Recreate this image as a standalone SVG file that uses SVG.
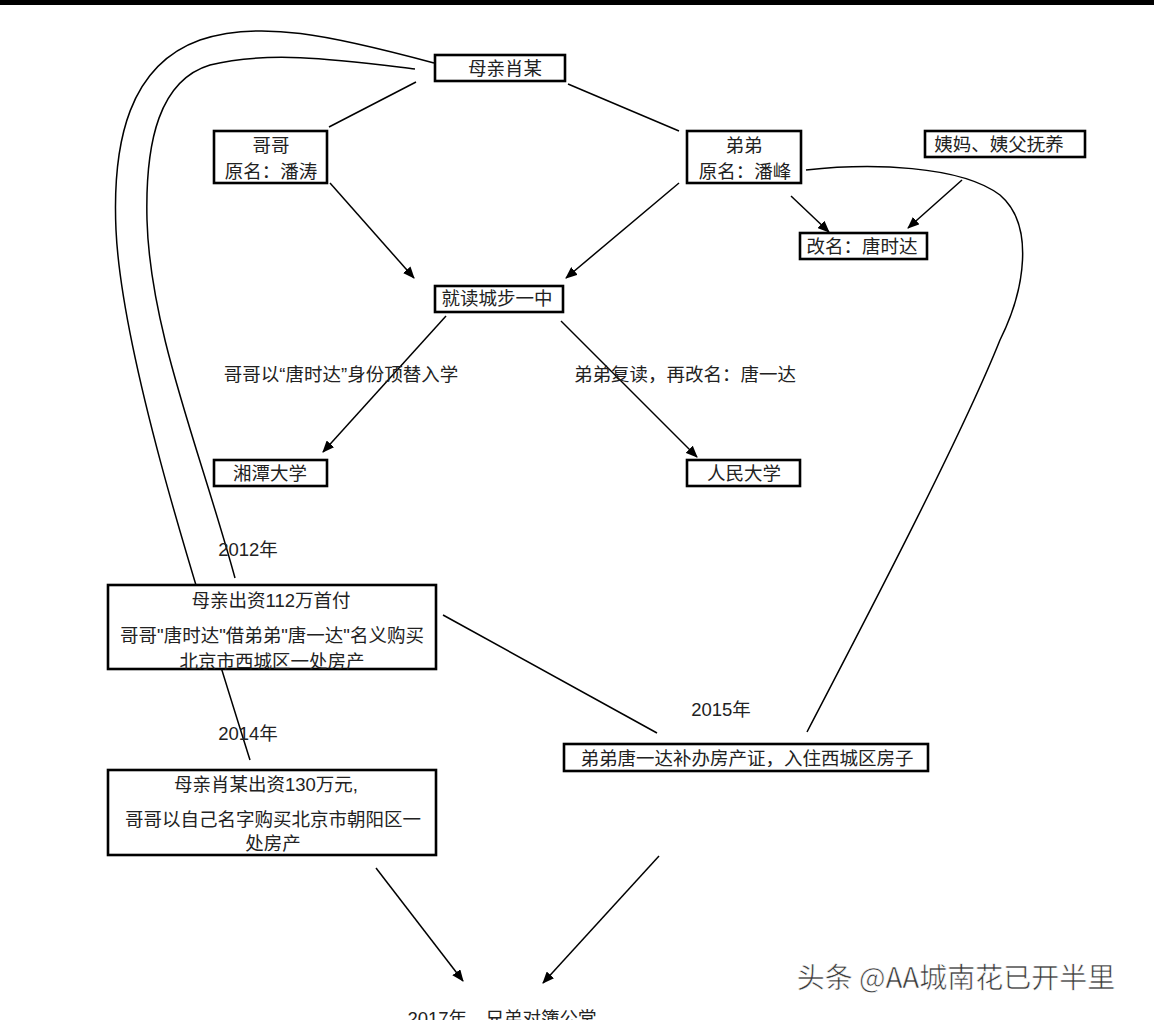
<svg xmlns="http://www.w3.org/2000/svg" width="1154" height="1020" viewBox="0 0 1154 1020">
<defs>
<style>
.box{fill:#fff;stroke:#000;stroke-width:2.6}
.t{font-family:"Liberation Sans","Noto Sans CJK SC",sans-serif;font-size:18.5px;fill:#222;text-anchor:middle}
.ln{fill:none;stroke:#000;stroke-width:1.5}
.wm{font-family:"Noto Sans CJK SC",sans-serif;font-size:28px;fill:#3a3a3a;stroke:#fff;stroke-width:0.6;text-anchor:middle}
</style>
<marker id="ah" viewBox="0 0 12 10" refX="11" refY="5" markerWidth="12" markerHeight="10" markerUnits="userSpaceOnUse" orient="auto">
<path d="M0,0 L12,5 L0,10 Z" fill="#000"/>
</marker>
</defs>
<rect width="1154" height="1020" fill="#fff"/>
<rect x="0" y="0" width="1154" height="5" fill="#000"/>

<g id="connectors">
<line class="ln" x1="416" y1="82" x2="329" y2="127"/>
<line class="ln" x1="568" y1="84" x2="679" y2="131"/>
<path class="ln" d="M434,63 C330,35 260,20 200,40 C130,65 112,140 116,230 C122,360 200,600 250,760"/>
<path class="ln" d="M415,69 C340,60 270,50 210,65 C160,80 145,140 147,220 C150,330 200,450 235,578"/>
<path class="ln" d="M806,170 C870,163 960,165 1000,195 C1035,225 1025,290 1000,340 C960,440 860,630 807,732"/>
<line class="ln" x1="330" y1="183" x2="414" y2="278" marker-end="url(#ah)"/>
<line class="ln" x1="679" y1="183" x2="566" y2="278" marker-end="url(#ah)"/>
<line class="ln" x1="791" y1="196" x2="829" y2="232" marker-end="url(#ah)"/>
<line class="ln" x1="962" y1="180" x2="908" y2="228" marker-end="url(#ah)"/>
<line class="ln" x1="446" y1="316" x2="323" y2="452" marker-end="url(#ah)"/>
<line class="ln" x1="561" y1="321" x2="697" y2="457" marker-end="url(#ah)"/>
<line class="ln" x1="443" y1="615" x2="657" y2="733"/>
<line class="ln" x1="376" y1="868" x2="463" y2="981" marker-end="url(#ah)"/>
<line class="ln" x1="659" y1="856" x2="543" y2="983" marker-end="url(#ah)"/>
</g>

<g id="mother"><rect class="box" x="435" y="55" width="130" height="26"/><text class="t" x="505" y="75">母亲肖某</text></g>
<g id="gege"><rect class="box" x="214" y="131" width="113" height="52"/><text class="t" x="271" y="152">哥哥</text><text class="t" x="271" y="178">原名：潘涛</text></g>
<g id="didi"><rect class="box" x="687" y="131" width="114" height="52"/><text class="t" x="744" y="152">弟弟</text><text class="t" x="745" y="178">原名：潘峰</text></g>
<g id="yima"><rect class="box" x="925" y="131" width="160" height="26"/><text class="t" x="999" y="151">姨妈、姨父抚养</text></g>
<g id="gaiming"><rect class="box" x="800" y="233" width="127" height="26"/><text class="t" x="862" y="253">改名：唐时达</text></g>
<g id="school"><rect class="box" x="435" y="286" width="128" height="26"/><text class="t" x="497" y="305">就读城步一中</text></g>
<g id="label-left"><text class="t" x="341" y="381">哥哥以“唐时达”身份顶替入学</text></g>
<g id="label-right"><text class="t" x="685" y="381">弟弟复读，再改名：唐一达</text></g>
<g id="xiangtan"><rect class="box" x="214" y="460" width="113" height="26"/><text class="t" x="270" y="480">湘潭大学</text></g>
<g id="renmin"><rect class="box" x="687" y="460" width="113" height="26"/><text class="t" x="744" y="480">人民大学</text></g>
<g id="y2012"><text class="t" x="248" y="556">2012年</text></g>
<g id="buy2012"><rect class="box" x="108" y="585" width="328" height="84"/><text class="t" x="271" y="607">母亲出资112万首付</text><text class="t" x="272" y="642">哥哥"唐时达"借弟弟"唐一达"名义购买</text><text class="t" x="272" y="668">北京市西城区一处房产</text></g>
<g id="y2014"><text class="t" x="248" y="740">2014年</text></g>
<g id="buy2014"><rect class="box" x="108" y="770" width="328" height="85"/><text class="t" x="266" y="791">母亲肖某出资130万元,</text><text class="t" x="273" y="826">哥哥以自己名字购买北京市朝阳区一</text><text class="t" x="273" y="850">处房产</text></g>
<g id="y2015"><text class="t" x="721" y="716">2015年</text></g>
<g id="cert2015"><rect class="box" x="564" y="744" width="364" height="27"/><text class="t" x="747" y="765">弟弟唐一达补办房产证，入住西城区房子</text></g>
<g id="y2017"><text class="t" x="502" y="1025">2017年，兄弟对簿公堂</text></g>
<text class="wm" x="956" y="988">头条 @AA城南花已开半里</text>
</svg>
